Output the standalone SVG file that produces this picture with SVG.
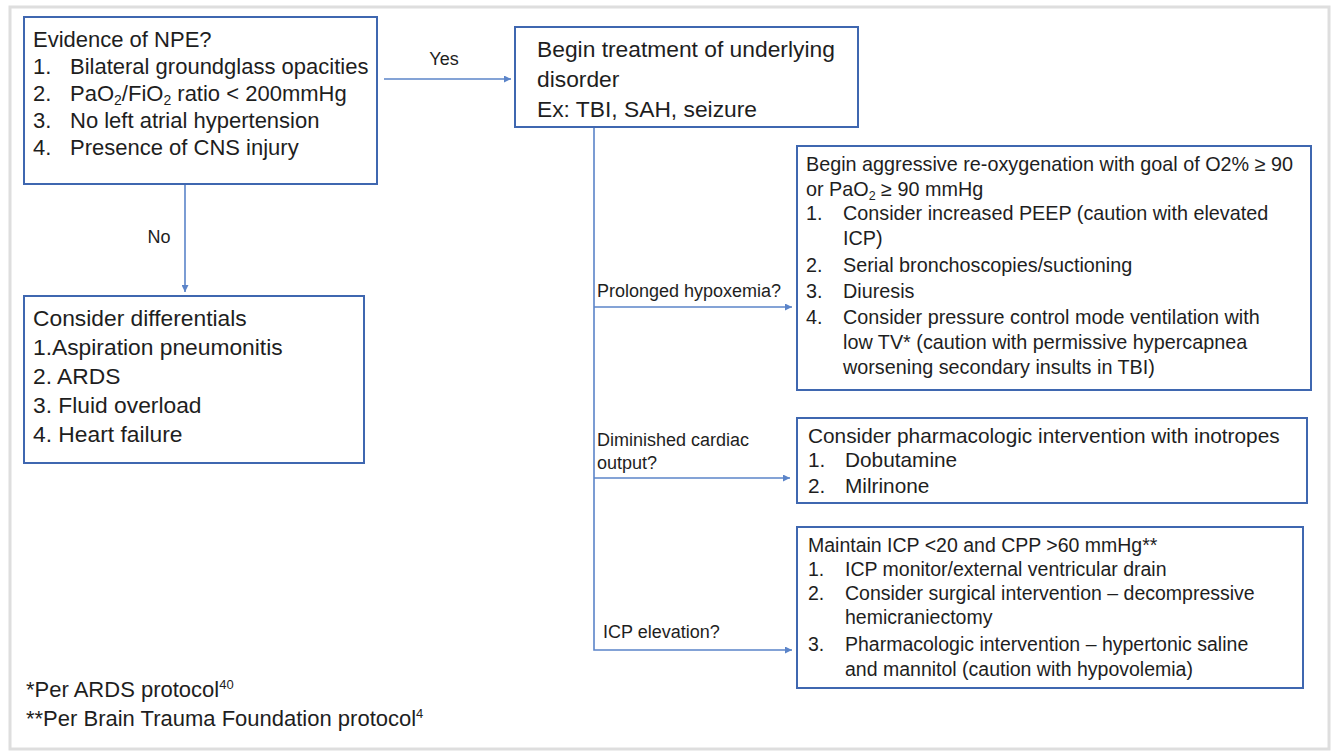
<svg xmlns="http://www.w3.org/2000/svg" width="1331" height="755" viewBox="0 0 1331 755">
<defs>
<style>
.frame{fill:#ffffff;stroke:#dedede;stroke-width:3}
.box{fill:#ffffff;stroke:#3f67b0;stroke-width:2}
.conn{fill:none;stroke:#5b84c9;stroke-width:1.6}
.t{font-family:"Liberation Sans",Arial,sans-serif;fill:#1e1e1e}
.big{font-size:22px}
.big2{font-size:22.8px}
.mid{font-size:19.8px}
.mid5{font-size:20.8px}
.midi{font-size:19.5px}
.lab{font-size:18px}
</style>
<marker id="ah" viewBox="0 0 10 10" refX="10" refY="5" markerWidth="7" markerHeight="7" markerUnits="userSpaceOnUse" orient="auto">
<path d="M0,0 L10,5 L0,10 z" fill="#5b84c9"/>
</marker>
</defs>
<rect class="frame" x="10" y="7" width="1319" height="742"/>

<g id="connectors">
<line class="conn" x1="384" y1="79" x2="511" y2="79" marker-end="url(#ah)"/>
<line class="conn" x1="185" y1="185" x2="185" y2="292" marker-end="url(#ah)"/>
<polyline class="conn" points="594,128 594,650 792,650" marker-end="url(#ah)"/>
<line class="conn" x1="594" y1="307" x2="792" y2="307" marker-end="url(#ah)"/>
<line class="conn" x1="594" y1="478" x2="790" y2="478" marker-end="url(#ah)"/>
</g>

<g id="labels">
<text class="t lab" x="444" y="65" text-anchor="middle">Yes</text>
<text class="t lab" x="159" y="243" text-anchor="middle">No</text>
<text class="t lab" x="597" y="297">Prolonged hypoxemia?</text>
<text class="t lab" x="597" y="446">Diminished cardiac</text>
<text class="t lab" x="597" y="469">output?</text>
<text class="t lab" x="603" y="638">ICP elevation?</text>
</g>

<g id="npe">
<rect class="box" x="24" y="17" width="353" height="167"/>
<text class="t big" x="33" y="47">Evidence of NPE?</text>
<text class="t big" x="33" y="74">1.</text><text class="t big" x="70" y="74">Bilateral groundglass opacities</text>
<text class="t big" x="33" y="101">2.</text><text class="t big" x="70" y="101">PaO<tspan font-size="14" dy="4">2</tspan><tspan dy="-4">/FiO</tspan><tspan font-size="14" dy="4">2</tspan><tspan dy="-4"> ratio &lt; 200mmHg</tspan></text>
<text class="t big" x="33" y="128">3.</text><text class="t big" x="70" y="128">No left atrial hypertension</text>
<text class="t big" x="33" y="155">4.</text><text class="t big" x="70" y="155">Presence of CNS injury</text>
</g>

<g id="treatment">
<rect class="box" x="515" y="27" width="343" height="100"/>
<text class="t big2" x="537" y="57">Begin treatment of underlying</text>
<text class="t big2" x="537" y="87">disorder</text>
<text class="t big2" x="537" y="117">Ex: TBI, SAH, seizure</text>
</g>

<g id="differentials">
<rect class="box" x="24" y="296" width="340" height="167"/>
<text class="t big2" x="33" y="326">Consider differentials</text>
<text class="t big2" x="33" y="355">1.Aspiration pneumonitis</text>
<text class="t big2" x="33" y="384">2. ARDS</text>
<text class="t big2" x="33" y="413">3. Fluid overload</text>
<text class="t big2" x="33" y="442">4. Heart failure</text>
</g>

<g id="reoxygenation">
<rect class="box" x="797" y="146" width="514" height="244"/>
<text class="t mid" x="806" y="171">Begin aggressive re-oxygenation with goal of O2% ≥ 90</text>
<text class="t mid" x="806" y="196">or PaO<tspan font-size="12.5" dy="4">2</tspan><tspan dy="-4"> ≥ 90 mmHg</tspan></text>
<text class="t mid" x="806" y="220">1.</text><text class="t mid" x="843" y="220">Consider increased PEEP (caution with elevated</text>
<text class="t mid" x="843" y="245">ICP)</text>
<text class="t mid" x="806" y="272">2.</text><text class="t mid" x="843" y="272">Serial bronchoscopies/suctioning</text>
<text class="t mid" x="806" y="298">3.</text><text class="t mid" x="843" y="298">Diuresis</text>
<text class="t mid" x="806" y="324">4.</text><text class="t mid" x="843" y="324">Consider pressure control mode ventilation with</text>
<text class="t mid" x="843" y="349">low TV* (caution with permissive hypercapnea</text>
<text class="t mid" x="843" y="374">worsening secondary insults in TBI)</text>
</g>

<g id="inotropes">
<rect class="box" x="797" y="418" width="510" height="85"/>
<text class="t mid5" x="808" y="443">Consider pharmacologic intervention with inotropes</text>
<text class="t mid5" x="808" y="467">1.</text><text class="t mid5" x="845" y="467">Dobutamine</text>
<text class="t mid5" x="808" y="493">2.</text><text class="t mid5" x="845" y="493">Milrinone</text>
</g>

<g id="icp">
<rect class="box" x="797" y="527" width="506" height="161"/>
<text class="t midi" x="808" y="552">Maintain ICP &lt;20 and CPP &gt;60 mmHg**</text>
<text class="t midi" x="808" y="576">1.</text><text class="t midi" x="845" y="576">ICP monitor/external ventricular drain</text>
<text class="t midi" x="808" y="600">2.</text><text class="t midi" x="845" y="600">Consider surgical intervention – decompressive</text>
<text class="t midi" x="845" y="624">hemicraniectomy</text>
<text class="t midi" x="808" y="651">3.</text><text class="t midi" x="845" y="651">Pharmacologic intervention – hypertonic saline</text>
<text class="t midi" x="845" y="676">and mannitol (caution with hypovolemia)</text>
</g>

<g id="footnotes">
<text class="t big" x="26" y="697">*Per ARDS protocol<tspan font-size="13" dy="-8">40</tspan></text>
<text class="t big" x="26" y="726">**Per Brain Trauma Foundation protocol<tspan font-size="13" dy="-8">4</tspan></text>
</g>
</svg>
